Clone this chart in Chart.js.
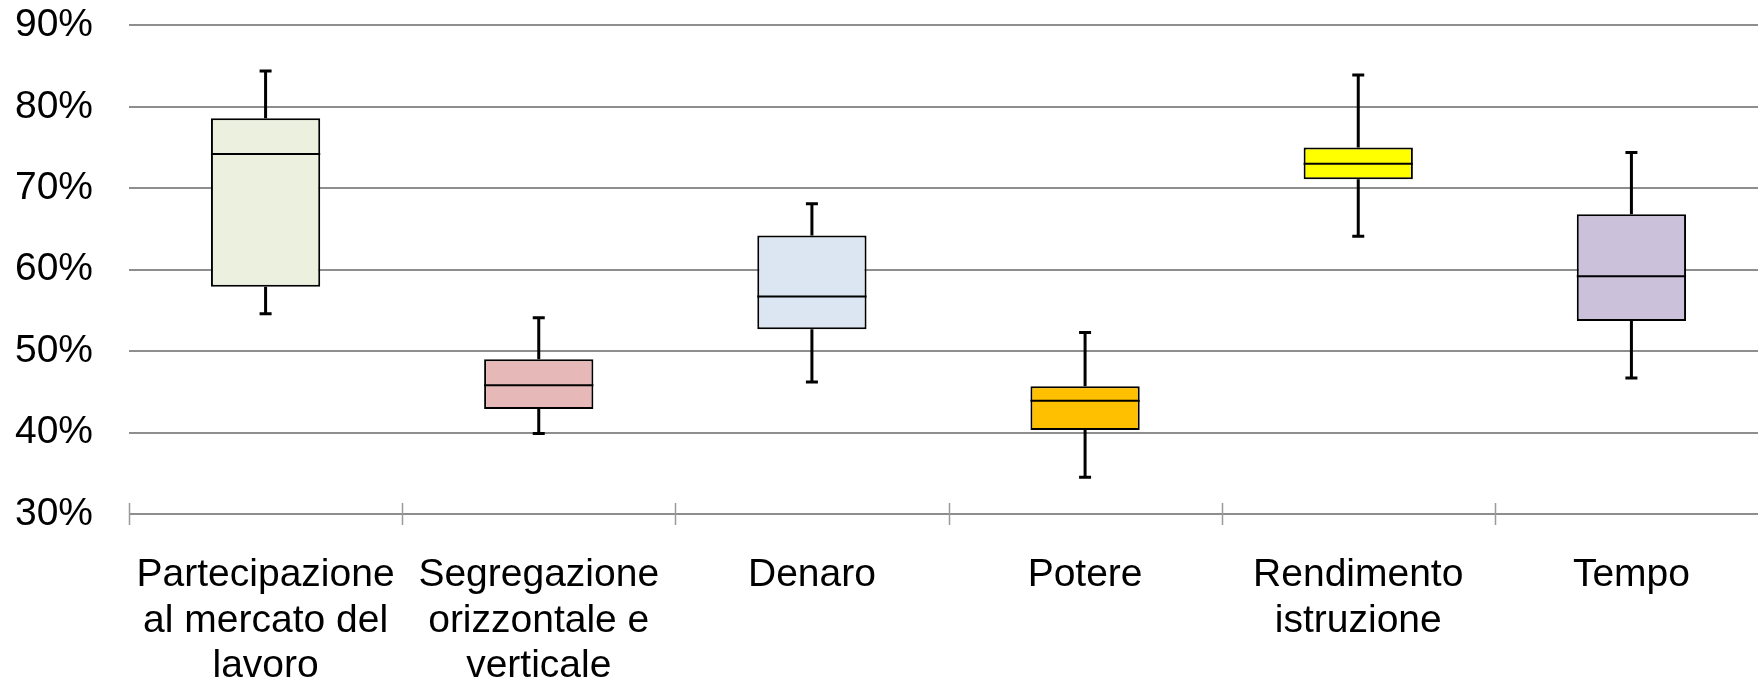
<!DOCTYPE html>
<html>
<head>
<meta charset="utf-8">
<script src="https://cdn.jsdelivr.net/npm/chart.js@4.4.1/dist/chart.umd.min.js"></script>
<style>
  html, body { margin: 0; padding: 0; background: #fff; overflow: hidden; }
  #wrap { width: 1768px; height: 679px; position: relative; }
</style>
</head>
<body>
<div id="wrap"><canvas id="boxChart"></canvas></div>
<script>
// --- data (percent) ---
const categories = [
    ['Partecipazione', 'al mercato del', 'lavoro'],
    ['Segregazione', 'orizzontale e', 'verticale'],
    ['Denaro'],
    ['Potere'],
    ['Rendimento', 'istruzione'],
    ['Tempo']
];
const mins    = [54.6, 39.9, 46.2, 34.5, 64.1, 46.7];
const q1s     = [57.9, 42.9, 52.7, 40.3, 71.1, 53.7];
const medians = [74.2, 45.8, 56.7, 43.9, 73.0, 59.2];
const q3s     = [78.6, 49.0, 64.2, 45.7, 75.0, 66.8];
const maxs    = [84.4, 54.1, 68.1, 52.3, 83.9, 74.4];
const yTicks  = [30, 40, 50, 60, 70, 80, 90];

const boxColors = ['#EBF1DE', '#E6B9B8', '#DCE6F2', '#FFC000', '#FFFF00', '#CCC1DA'];
const FONT = "'Liberation Sans', Arial, sans-serif";

// whiskers, caps, medians and the axis tick marks
const boxParts = {
    id: 'boxParts',
    afterDatasetsDraw(chart) {
        const ctx = chart.ctx;
        const y = chart.scales.y, x = chart.scales.x;
        const meta = chart.getDatasetMeta(0);
        ctx.save();
        ctx.strokeStyle = '#000';
        meta.data.forEach((bar, i) => {
            const cx = bar.x, hw = bar.width / 2;
            const capW = 6;
            // whiskers
            ctx.lineWidth = 3;
            ctx.beginPath();
            ctx.moveTo(cx, y.getPixelForValue(q3s[i]));
            ctx.lineTo(cx, y.getPixelForValue(maxs[i]));
            ctx.moveTo(cx, y.getPixelForValue(q1s[i]));
            ctx.lineTo(cx, y.getPixelForValue(mins[i]));
            ctx.stroke();
            // caps
            ctx.beginPath();
            ctx.moveTo(cx - capW, y.getPixelForValue(maxs[i]));
            ctx.lineTo(cx + capW, y.getPixelForValue(maxs[i]));
            ctx.moveTo(cx - capW, y.getPixelForValue(mins[i]));
            ctx.lineTo(cx + capW, y.getPixelForValue(mins[i]));
            ctx.stroke();
            // median
            ctx.lineWidth = 2;
            ctx.beginPath();
            ctx.moveTo(cx - hw, y.getPixelForValue(medians[i]));
            ctx.lineTo(cx + hw, y.getPixelForValue(medians[i]));
            ctx.stroke();
        });
        // category boundary ticks on the base axis
        const base = y.getPixelForValue(yTicks[0]);
        const step = x.width / categories.length;
        ctx.strokeStyle = '#9a9a9a';
        ctx.lineWidth = 1.5;
        ctx.beginPath();
        for (let i = 0; i < categories.length; i++) {
            const px = Math.round(x.left + i * step) + 0.5;
            ctx.moveTo(px, base - 11);
            ctx.lineTo(px, base + 11);
        }
        ctx.stroke();
        ctx.restore();
    }
};

new Chart(document.getElementById('boxChart'), {
    type: 'bar',
    data: {
        labels: categories,
        datasets: [{
            data: q1s.map((q, i) => [q, q3s[i]]),
            backgroundColor: boxColors,
            borderColor: '#000',
            borderWidth: 2,
            borderSkipped: false,
            categoryPercentage: 1,
            barPercentage: 0.40
        }]
    },
    options: {
        responsive: true,
        maintainAspectRatio: false,
        animation: false,
        layout: { padding: { top: 0, left: 0, right: 0, bottom: 0 } },
        plugins: { legend: { display: false }, tooltip: { enabled: false } },
        scales: {
            x: {
                grid: { display: false, drawTicks: false },
                border: { display: false },
                ticks: {
                    color: '#000',
                    padding: 39,
                    maxRotation: 0,
                    autoSkip: false,
                    font: { family: FONT, size: 39, lineHeight: 1.16 }
                },
                afterFit(s) { s.height = 165; }
            },
            y: {
                min: 30,
                max: 90,
                afterBuildTicks(s) { s.ticks = yTicks.map(v => ({ value: v })); },
                grid: {
                    color: '#8e8e8e', lineWidth: 2,
                    drawTicks: true, tickLength: 34, tickColor: 'rgba(0,0,0,0)'
                },
                border: { display: false },
                ticks: {
                    color: '#000',
                    padding: 2,
                    font: { family: FONT, size: 39 },
                    callback: v => v + '%'
                },
                afterFit(s) { s.width = 129; }
            }
        }
    },
    plugins: [boxParts]
});
</script>
</body>
</html>
